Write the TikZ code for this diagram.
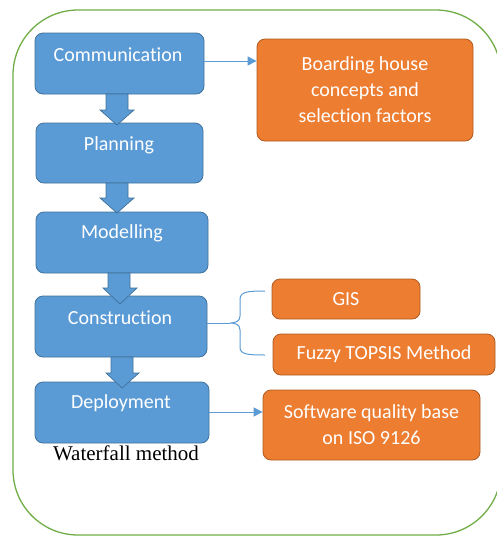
\documentclass[tikz,border=0pt]{standalone}
\usepackage{fontspec}
\setmainfont[Ligatures=NoCommon]{Carlito}
\newfontfamily\serifcap{Liberation Serif}
\usetikzlibrary{arrows.meta,calc}
\definecolor{bfill}{HTML}{5B9BD5}
\definecolor{bline}{HTML}{41719C}
\definecolor{ofill}{HTML}{ED7D31}
\definecolor{oline}{HTML}{AE5A21}
\definecolor{gline}{HTML}{70AD47}
\tikzset{
  bluebox/.style={draw=bline, fill=bfill, line width=0.8pt, rounded corners=8pt, inner sep=0pt},
  orangebox/.style={draw=oline, fill=ofill, line width=0.8pt, rounded corners=8pt, inner sep=0pt,
    text=white, align=center, font=\fontsize{20}{26}\selectfont},
  boxtext/.style={text=white, font=\fontsize{20}{26}\selectfont, inner sep=0pt},
  blockarrow/.style={draw=bline, fill=bfill, line width=0.7pt},
  thinarrow/.style={draw=bfill, line width=1pt, -{Triangle[length=9pt,width=9pt]}},
  bracestyle/.style={draw=bfill, line width=1pt},
}
\begin{document}
\begin{tikzpicture}[x=1pt,y=-1pt]
\useasboundingbox (0,0) rectangle (496,536);
% container
\draw[gline, line width=1.3pt, rounded corners=65pt] (13,10) rectangle (501,535);

% blue boxes
\node[bluebox, minimum width=169pt, minimum height=61pt] (comm) at (119.5,63.5) {};
\node[bluebox, minimum width=167pt, minimum height=60pt] (plan) at (119.5,153) {};
\node[bluebox, minimum width=172pt, minimum height=61pt] (model) at (122,242.5) {};
\node[bluebox, minimum width=172pt, minimum height=61pt] (cons) at (121,326.5) {};
\node[bluebox, minimum width=174pt, minimum height=61pt] (deploy) at (122,412.5) {};

\node[boxtext] (commT) at (118,55) {Communication};
\node[boxtext] (planT) at (119,145) {Planning};
\node[boxtext] (modelT) at (122,233) {Modelling};
\node[boxtext] (consT) at (120,318) {Construction};
\node[boxtext] (deployT) at (121,403) {Deployment};

% block arrows
\draw[blockarrow] (106,94) -- (128,94) -- (128,110) -- (134,110) -- (117,125) -- (100,110) -- (106,110) -- cycle;
\draw[blockarrow] (106,183) -- (128,183) -- (128,198) -- (134,198) -- (117,213) -- (100,198) -- (106,198) -- cycle;
\draw[blockarrow] (108,273) -- (130,273) -- (130,288) -- (137,288) -- (120,304) -- (103,288) -- (108,288) -- cycle;
\draw[blockarrow] (111,357) -- (133,357) -- (133,373) -- (139,373) -- (122,388) -- (106,373) -- (111,373) -- cycle;

% orange boxes
\node[orangebox, minimum width=216pt, minimum height=102pt] (board) at (365,90) {Boarding house\\concepts and\\selection factors};
\node[orangebox, minimum width=148pt, minimum height=40pt] (gis) at (346,299) {GIS};
\node[orangebox, minimum width=222pt, minimum height=41pt] (fuzzy) at (384,354.5) {Fuzzy TOPSIS Method};
\node[orangebox, minimum width=217pt, minimum height=70pt] (soft) at (371.5,425) {Software quality base\\on ISO 9126};

% thin arrows
\draw[thinarrow] (comm.east |- 0,61) -- (board.west |- 0,61);
\draw[thinarrow] (deploy.east |- 0,412) -- (soft.west |- 0,412);

% brace
\coordinate (bmid) at (230,323);
\coordinate (btop) at (265,291);
\coordinate (bbot) at (265,355);
\draw[bracestyle] (cons.east |- bmid) -- (bmid);
\draw[bracestyle] (btop) .. controls (246,291) and (240,292) .. (240,300) -- (240,316)
  .. controls (240,321) and (236,323) .. (bmid)
  .. controls (236,323) and (240,325) .. (240,330) -- (240,347)
  .. controls (240,354) and (246,355) .. (bbot);

% caption
\node[font=\serifcap\fontsize{21}{24}\selectfont, inner sep=0pt] (cap) at (126,453) {Waterfall method};
\end{tikzpicture}
\end{document}
